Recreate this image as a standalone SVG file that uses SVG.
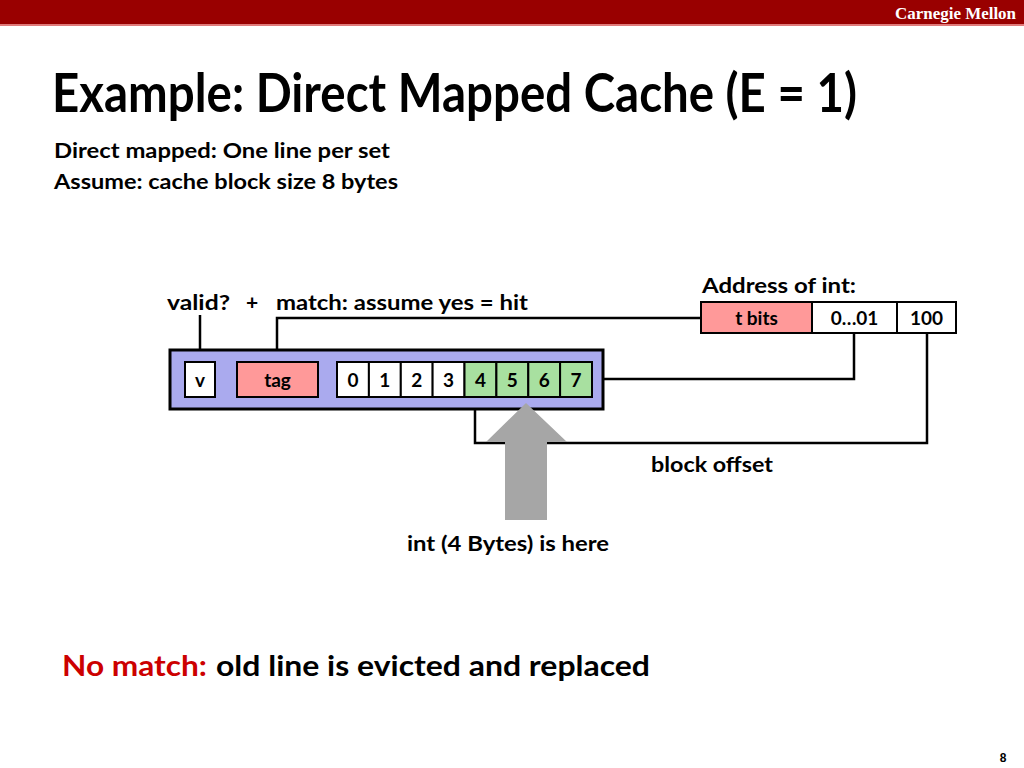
<svg xmlns="http://www.w3.org/2000/svg" width="1024" height="768" viewBox="0 0 1024 768">
<style>
.t{font-family:Lato,"Open Sans","Liberation Sans",sans-serif;font-weight:bold;fill:#000}
.c{text-anchor:middle;font-size:19px}
.box{stroke:#000;stroke-width:2}
.ln{fill:none;stroke:#000;stroke-width:2.5}
</style>
<rect x="0" y="0" width="1024" height="24" fill="#990000"/>
<rect x="0" y="24" width="1024" height="2" fill="#e07a7a"/>
<text x="895" y="19" font-family="'Liberation Serif',serif" font-weight="bold" font-size="16" fill="#fff" textLength="121" lengthAdjust="spacingAndGlyphs">Carnegie Mellon</text>
<text class="t" x="52" y="112" font-size="53" textLength="805" lengthAdjust="spacingAndGlyphs">Example: Direct Mapped Cache (E = 1)</text>
<text class="t" x="54" y="158" font-size="21" textLength="336" lengthAdjust="spacingAndGlyphs">Direct mapped: One line per set</text>
<text class="t" x="54" y="189" font-size="21" textLength="344" lengthAdjust="spacingAndGlyphs">Assume: cache block size 8 bytes</text>

<g id="labels">
<text class="t" x="167" y="310" font-size="21" textLength="63" lengthAdjust="spacingAndGlyphs">valid?</text>
<text class="t" x="246" y="310" font-size="21">+</text>
<text class="t" x="276" y="310" font-size="21" textLength="252" lengthAdjust="spacingAndGlyphs">match: assume yes = hit</text>
<text class="t" x="702" y="293" font-size="21" textLength="154" lengthAdjust="spacingAndGlyphs">Address of int:</text>
<text class="t" x="651" y="472" font-size="21" textLength="122" lengthAdjust="spacingAndGlyphs">block offset</text>
<text class="t" x="407" y="551" font-size="21" textLength="202" lengthAdjust="spacingAndGlyphs">int (4 Bytes) is here</text>
</g>

<g id="connectors">
<line class="ln" x1="200" y1="315" x2="200" y2="362"/>
<polyline class="ln" points="277,362 277,318 701,318"/>
<polyline class="ln" points="854,333 854,379 603,379"/>
<polyline class="ln" points="927,333 927,443 475,443 475,397"/>
</g>

<g id="cache-line">
<rect x="170" y="350" width="433" height="59" fill="#aaaaee" stroke="#000" stroke-width="3"/>
<g id="valid-bit">
<rect class="box" x="185" y="362" width="30" height="35" fill="#fff"/>
<text class="t c" x="200" y="387">v</text>
</g>
<g id="tag">
<rect class="box" x="237" y="362" width="81" height="35" fill="#ff9999"/>
<text class="t c" x="277.5" y="387">tag</text>
</g>
<g id="block">
<rect x="337" y="362" width="255" height="35" fill="#000"/>
<rect class="box" x="337" y="362" width="31.9" height="35" fill="#fff"/>
<rect class="box" x="368.9" y="362" width="31.9" height="35" fill="#fff"/>
<rect class="box" x="400.8" y="362" width="31.9" height="35" fill="#fff"/>
<rect class="box" x="432.6" y="362" width="31.9" height="35" fill="#fff"/>
<rect class="box" x="464.5" y="362" width="31.9" height="35" fill="#a8e0a0"/>
<rect class="box" x="496.4" y="362" width="31.9" height="35" fill="#a8e0a0"/>
<rect class="box" x="528.3" y="362" width="31.9" height="35" fill="#a8e0a0"/>
<rect class="box" x="560.1" y="362" width="31.9" height="35" fill="#a8e0a0"/>
<text class="t c" x="353" y="387">0</text>
<text class="t c" x="384.8" y="387">1</text>
<text class="t c" x="416.7" y="387">2</text>
<text class="t c" x="448.6" y="387">3</text>
<text class="t c" x="480.5" y="387">4</text>
<text class="t c" x="512.3" y="387">5</text>
<text class="t c" x="544.2" y="387">6</text>
<text class="t c" x="576.1" y="387">7</text>
</g>
</g>

<g id="address">
<rect class="box" x="701" y="302" width="111" height="31" fill="#ff9999"/>
<rect class="box" x="812" y="302" width="85" height="31" fill="#fff"/>
<rect class="box" x="897" y="302" width="59" height="31" fill="#fff"/>
<text class="t c" x="756.5" y="325">t bits</text>
<text class="t c" x="854.5" y="325">0…01</text>
<text class="t c" x="926.5" y="325">100</text>
</g>

<g id="arrow">
<polygon points="526,403 567,442 547,442 547,520 505,520 505,442 486,442" fill="#a6a6a6"/>
</g>

<text class="t" x="62" y="676" font-size="28" style="fill:#cc0000" textLength="145" lengthAdjust="spacingAndGlyphs">No match:</text>
<text class="t" x="216" y="676" font-size="28" textLength="434" lengthAdjust="spacingAndGlyphs">old line is evicted and replaced</text>
<text x="1003" y="762" font-family="'Liberation Sans',sans-serif" font-weight="bold" font-size="12" text-anchor="middle">8</text>
</svg>
